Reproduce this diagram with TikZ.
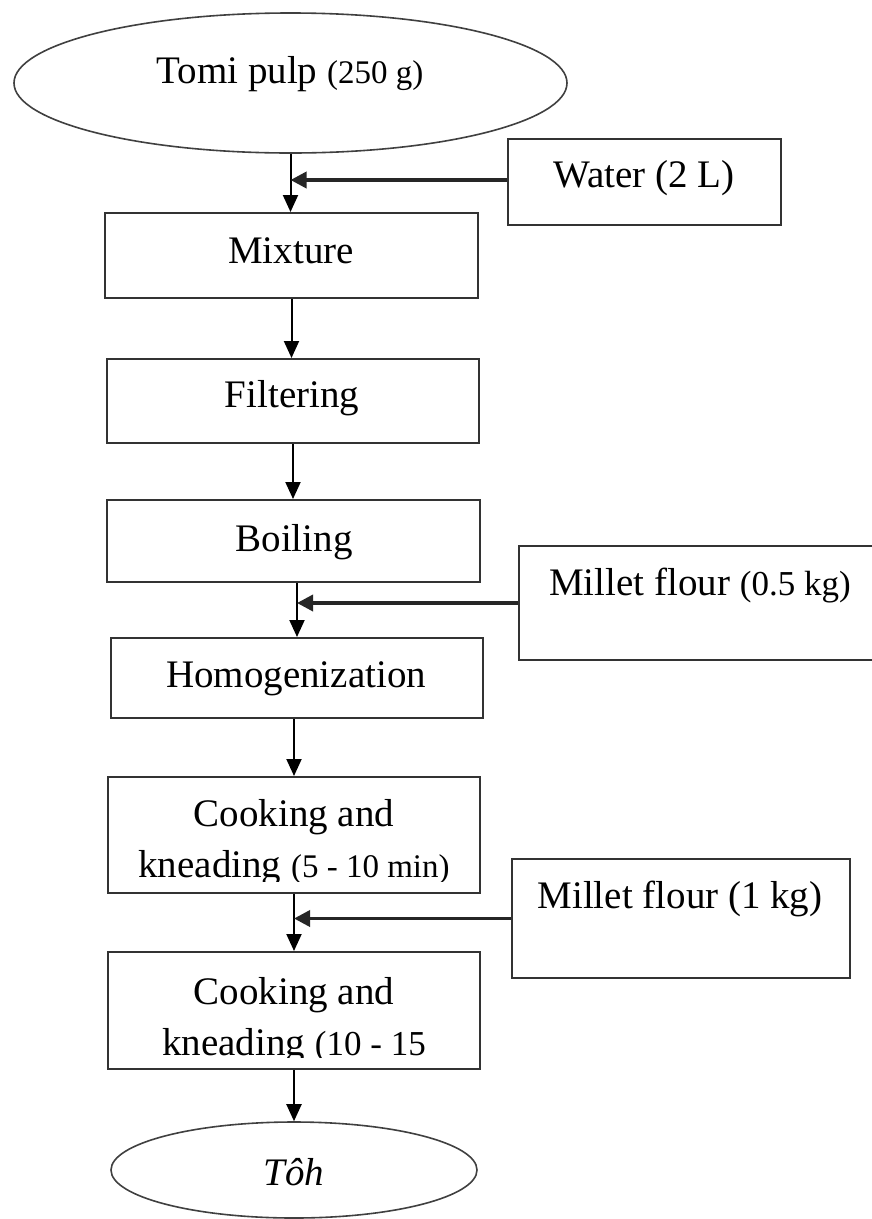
\documentclass[tikz,border=0pt]{standalone}
\usepackage{fontspec}
\setmainfont{Liberation Serif}
\usetikzlibrary{arrows.meta,shapes.geometric}

\begin{document}
\begin{tikzpicture}[x=1pt,y=-1pt,
  stepbox/.style={draw=black!80, line width=2pt, rectangle, inner sep=0pt},
  endbox/.style={draw=black!75, line width=1.6pt, ellipse, inner sep=0pt},
  lbl/.style={anchor=base, inner sep=0pt, align=center,
              font=\fontsize{39}{51}\selectfont},
  flow/.style={draw=black, line width=2pt, -{Triangle[length=17pt,width=15pt]}},
  feed/.style={draw=black!85, line width=3.5pt, -{Triangle[length=16pt,width=16pt]}},
]
\useasboundingbox[fill=white] (0,0) rectangle (871,1219);

% raw material and product
\node[endbox, minimum width=553pt, minimum height=140pt] (tomi) at (290.5,83) {};
\node[endbox, minimum width=366pt, minimum height=96pt] (toh) at (294,1170) {};

% process steps
\node[stepbox, minimum width=373pt, minimum height=85pt]  (mix)  at (291.5,255.5) {};
\node[stepbox, minimum width=372pt, minimum height=84pt]  (filt) at (293,401) {};
\node[stepbox, minimum width=373pt, minimum height=82pt]  (boil) at (293.5,541) {};
\node[stepbox, minimum width=372pt, minimum height=80pt]  (homo) at (297,678) {};
\node[stepbox, minimum width=372pt, minimum height=116pt] (ck1)  at (294,835) {};
\node[stepbox, minimum width=372pt, minimum height=117pt] (ck2)  at (294,1010.5) {};

% added ingredients
\node[stepbox, minimum width=273pt, minimum height=86pt]  (water) at (644.5,182) {};
\node[stepbox, minimum width=371pt, minimum height=114pt] (mf1)   at (704.5,603) {};
\node[stepbox, minimum width=338pt, minimum height=119pt] (mf2)   at (681,918.5) {};

% labels (multi-line labels sit on the baseline of their last line)
\node[lbl] (tomiT) at (290,83) {Tomi pulp {\fontsize{33}{33}\selectfont(250 g)}};
\node[lbl] (waterT) at (644,187) {Water (2 L)};
\node[lbl] (mixT) at (291,263) {Mixture};
\node[lbl] (filtT) at (292,407) {Filtering};
\node[lbl] (boilT) at (294,551) {Boiling};
\node[lbl] (mf1T) at (700,595) {Millet flour {\fontsize{35}{35}\selectfont(0.5 kg)}};
\node[lbl] (homoT) at (296,687) {Homogenization};
\begin{scope}
  \clip (ck1.north west) rectangle ([yshift=13pt]ck1.south east);
  \node[lbl] (ck1T) at (294,877) {Cooking and\\kneading {\fontsize{33}{33}\selectfont(5 - 10 min)}};
\end{scope}
\node[lbl] (mf2T) at (680,908) {Millet flour (1 kg)};
\begin{scope}
  \clip (ck2.north west) rectangle ([yshift=13pt]ck2.south east);
  \node[lbl] (ck2T) at (294,1055) {Cooking and\\kneading {\fontsize{35}{35}\selectfont(10 - 15}};
\end{scope}
\node[lbl] (tohT) at (294,1185) {\itshape Tôh};

% main flow
\draw[flow] (tomi.south) -- (tomi.south |- mix.north);
\draw[flow] (mix.south) -- (mix.south |- filt.north);
\draw[flow] (filt.south) -- (filt.south |- boil.north);
\draw[flow] (homo.north |- boil.south) -- (homo.north);
\draw[flow] (homo.south -| ck1.north) -- (ck1.north);
\draw[flow] (ck1.south) -- (ck2.north);
\draw[flow] (ck2.south) -- (toh.north);

% ingredient feeds
\draw[feed] ([yshift=2pt]water.west) -- ([yshift=2pt]water.west -| tomi.south);
\draw[feed] (mf1.west) -- (mf1.west -| homo.north);
\draw[feed] (mf2.west) -- (mf2.west -| ck1.south);
\end{tikzpicture}
\end{document}
